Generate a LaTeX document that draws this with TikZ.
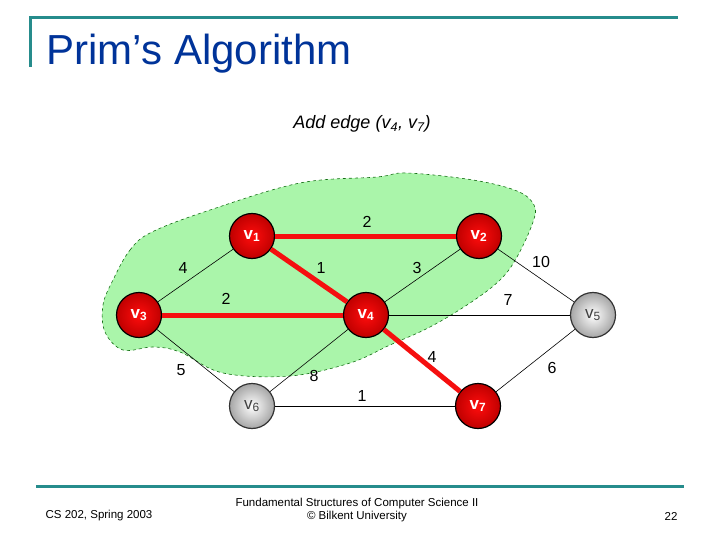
\documentclass[tikz,border=0pt]{standalone}
\usepackage{fontspec}
\setmainfont{Liberation Sans}
\usetikzlibrary{positioning}

\definecolor{rimteal}{RGB}{38,140,140}
\definecolor{titleblue}{RGB}{0,51,153}
\definecolor{blobgreen}{RGB}{170,245,170}
\definecolor{blobedge}{RGB}{20,110,20}
\definecolor{treered}{RGB}{245,15,15}

\begin{document}
\begin{tikzpicture}[x=1pt, y=-1pt,
    rim/.style={draw=rimteal, line width=3pt},
    vin/.style={circle, draw=black, line width=1.2pt, minimum size=45pt, inner sep=0pt,
        inner color=red!95!white, outer color=red!75!black, text=white,
        font=\fontsize{17}{17}\selectfont\bfseries},
    vout/.style={circle, draw=black!80, line width=1.2pt, minimum size=45pt, inner sep=0pt,
        inner color=white, outer color=black!35, text=black!75,
        font=\fontsize{17}{17}\selectfont},
    tree/.style={draw=treered, line width=5pt},
    edge/.style={draw=black, line width=0.6pt},
    wt/.style={font=\fontsize{16}{16}\selectfont, inner sep=1pt},
    foot/.style={font=\fontsize{11.5}{13}\selectfont, align=center}
]
\useasboundingbox (0,0) rectangle (720,540);

% header and footer
\draw[rim] (30,67) -- (30,18) -- (678,18);
\node[anchor=base west, text=titleblue, font=\fontsize{42}{46}\selectfont] (title) at (43,65) {Prim’s Algorithm};
\node[font=\fontsize{18}{20}\selectfont\itshape] (step) at (362,124) {Add edge (v\textsubscript{4}, v\textsubscript{7})};
\draw[rim] (36,486) -- (684,486);
\node[foot] (course) at (99,516) {CS 202, Spring 2003};
\node[foot] (book) at (357,510) {Fundamental Structures of Computer Science II\\© Bilkent University};
\node[foot] (page) at (671,516) {22};

% tree region
\draw[blobedge, dashed, fill=blobgreen, line width=0.6pt] plot[smooth cycle, tension=0.6] coordinates {
    (113,280) (130,250) (152,232) (210,210) (300,183) (377,177) (407,173) (473,180)
    (517,191) (534,205) (533,222) (517,257) (500,280) (470,303) (430,327) (390,345)
    (350,363) (290,376) (223,373) (180,352) (153,347) (123,350) (105,332) (103,305)};

% vertices
\node[vin]  (v1) at (252,236) {v\textsubscript{1}};
\node[vin]  (v2) at (479,236) {v\textsubscript{2}};
\node[vin]  (v3) at (139,315) {v\textsubscript{3}};
\node[vin]  (v4) at (366,315) {v\textsubscript{4}};
\node[vout] (v5) at (593,315) {v\textsubscript{5}};
\node[vout] (v6) at (252,406) {v\textsubscript{6}};
\node[vin]  (v7) at (478,406) {v\textsubscript{7}};

% edges
\draw[tree] (v1) -- (v2);
\draw[tree] (v1) -- (v4);
\draw[tree] (v3) -- (v4);
\draw[tree] (v4) -- (v7);
\draw[edge] (v1) -- (v3);
\draw[edge] (v2) -- (v4);
\draw[edge] (v2) -- (v5);
\draw[edge] (v4) -- (v5);
\draw[edge] (v3) -- (v6);
\draw[edge] (v4) -- (v6);
\draw[edge] (v6) -- (v7);
\draw[edge] (v5) -- (v7);

% weights
\node[wt] (w12) at (367,222) {2};
\node[wt] (w13) at (183,268) {4};
\node[wt] (w14) at (321,268) {1};
\node[wt] (w24) at (417,268) {3};
\node[wt] (w25) at (541,262) {10};
\node[wt] (w34) at (226,299) {2};
\node[wt] (w45) at (508,300) {7};
\node[wt] (w36) at (181,370) {5};
\node[wt] (w46) at (314,376) {8};
\node[wt] (w47) at (432,357) {4};
\node[wt] (w57) at (552,368) {6};
\node[wt] (w67) at (362,396) {1};
\end{tikzpicture}
\end{document}
